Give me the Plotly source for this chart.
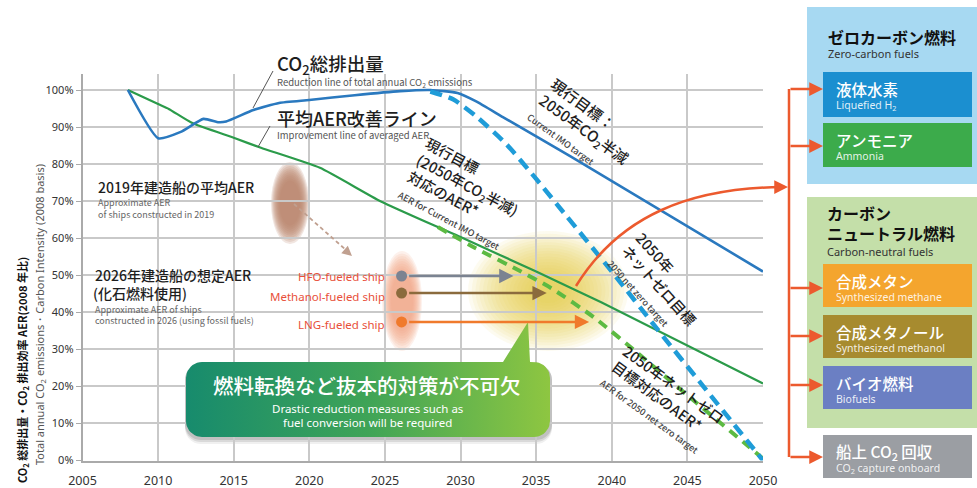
import math
import plotly.graph_objects as go

# ---------------- data ----------------
years_co2_total = [2008, 2010, 2011.5, 2013, 2014, 2014.5, 2016.3, 2018, 2020, 2023, 2026, 2028, 2029.8, 2031, 2032.8, 2037.3, 2050]
co2_total = [100, 87, 88.7, 92.2, 91.3, 91.5, 94.6, 96.5, 97.3, 98.6, 99.7, 100, 99.2, 97, 92.7, 82, 51]

years_co2_netzero = [2028, 2029.5, 2031, 2033, 2035, 2037, 2040, 2043, 2046, 2050]
co2_netzero = [99.6, 97.5, 93, 85.5, 76, 66, 51, 35.5, 20.3, 0]

years_aer_avg = [2008, 2010, 2010.7, 2012.3, 2015, 2016.8, 2020.7, 2024.7, 2030, 2035, 2039.3, 2050]
aer_avg = [100, 96.2, 94.9, 91, 87.1, 84.4, 79, 70, 60.3, 51, 42.7, 20.8]

years_aer_netzero = [2028.5, 2031, 2034, 2036, 2038.8, 2042, 2045, 2048.7, 2050]
aer_netzero = [63, 57.3, 51, 46.5, 38.7, 28, 17.6, 5, 0.5]

ship_types = ["HFO-fueled ship", "Methanol-fueled ship", "LNG-fueled ship"]
ship_year = 2026.1
ship_aer_2026 = [49.8, 45.2, 37.4]
ship_arrow_end = [2033.5, 2035.7, 2038.5]
ship_colors = ["#7b8391", "#8b6b3d", "#f07a2c"]

x_ticks = [2005, 2010, 2015, 2020, 2025, 2030, 2035, 2040, 2045, 2050]
y_ticks = [0, 10, 20, 30, 40, 50, 60, 70, 80, 90, 100]

# ---------------- geometry helpers ----------------
W, H = 977, 488
X0PX, X1PX = 82.5, 763.0
Y0PX, Y100PX, YTOPPX = 460.5, 90.0, 74.0
PXPCT = (Y0PX - Y100PX) / 100.0
YTOP = (Y0PX - YTOPPX) / PXPCT

def fx(p):
    return p / W

def fy(p):
    return 1 - p / H

def dx(p):
    return 2005 + (p - X0PX) * 45.0 / (X1PX - X0PX)

def dy(p):
    return (Y0PX - p) / PXPCT

JP = "Noto Sans CJK JP"
ORANGE = "#ec5a2e"

fig = go.Figure()

# ---------------- callout (gradient) ----------------
def rounded_poly(x0, y0, x1, y1, r, tail=None, n=10):
    pts = []
    def arc(cx, cy, a0, a1):
        for i in range(n + 1):
            a = math.radians(a0 + (a1 - a0) * i / n)
            pts.append((cx + r * math.cos(a), cy + r * math.sin(a)))
    arc(x0 + r, y0 + r, 180, 270)
    if tail:
        pts.extend(tail)
    arc(x1 - r, y0 + r, 270, 360)
    arc(x1 - r, y1 - r, 0, 90)
    arc(x0 + r, y1 - r, 90, 180)
    pts.append(pts[0])
    return pts

CB = (186, 362, 550, 437)
tail = [(503, 362), (528, 322), (530, 362)]
callout = rounded_poly(*CB, 16, tail)

def path_from(pts, ox=0, oy=0):
    return "M " + " L ".join(f"{fx(x+ox):.5f},{fy(y+oy):.5f}" for x, y in pts) + " Z"

shapes = []
for k, a in [(6, 0.08), (4, 0.12), (2, 0.15)]:
    shapes.append(dict(type="path", xref="paper", yref="paper",
                       path=path_from(rounded_poly(CB[0]-1, CB[1]+1, CB[2]+2, CB[3]+k, 16), 0, 1),
                       fillcolor=f"rgba(60,60,60,{a})", line=dict(width=0), layer="between"))

def blob(cx, cy, rx, ry, rgb, n, alpha, layer="between", inner=0.35):
    for i in range(n):
        s = 1 - i * (1 - inner) / (n - 1)
        shapes.append(dict(type="circle", xref="paper", yref="paper",
                           x0=fx(cx - rx * s), x1=fx(cx + rx * s),
                           y0=fy(cy + ry * s), y1=fy(cy - ry * s),
                           fillcolor=f"rgba({rgb[0]},{rgb[1]},{rgb[2]},{alpha})",
                           line=dict(width=0), layer=layer))

blob(548, 291, 80, 60, (224, 202, 58), 18, 0.08, inner=0.2)
blob(290, 203, 19, 41, (184, 132, 104), 10, 0.2, inner=0.55)
blob(402, 301, 20, 50, (243, 158, 126), 10, 0.15, inner=0.55)

shapes.append(dict(type="line", xref="paper", yref="paper", x0=fx(294), y0=fy(204), x1=fx(346), y1=fy(250),
                   line=dict(color="#c0a090", width=1.8, dash="4px,3px"), layer="above"))

shapes.append(dict(type="line", xref="paper", yref="paper", x0=fx(253), y0=fy(108), x1=fx(273), y1=fy(71),
                   line=dict(color="#555", width=1)))
shapes.append(dict(type="line", xref="paper", yref="paper", x0=fx(258), y0=fy(147), x1=fx(270), y1=fy(126),
                   line=dict(color="#555", width=1)))

shapes.append(dict(type="path", xref="paper", yref="paper",
                   path=f"M {fx(576)},{fy(286)} C {fx(620)},{fy(215)} {fx(690)},{fy(188)} {fx(782)},{fy(187)}",
                   line=dict(color=ORANGE, width=2.5)))
shapes.append(dict(type="line", xref="paper", yref="paper", x0=fx(789), y0=fy(89), x1=fx(789), y1=fy(457),
                   line=dict(color=ORANGE, width=2.5)))

def rect(x0, y0, x1, y1, color):
    shapes.append(dict(type="rect", xref="paper", yref="paper", x0=fx(x0), x1=fx(x1), y0=fy(y1), y1=fy(y0),
                       fillcolor=color, line=dict(width=0), layer="below"))

rect(807, 7, 980, 184, "#a7d9f2")
rect(807, 197, 980, 428, "#c4dfa9")
boxes = [
    (72, 117, "#1b8fd0", "液体水素", "Liquefied H<sub>2</sub>"),
    (123, 167, "#3cab4b", "アンモニア", "Ammonia"),
    (264, 307, "#f4a52e", "合成メタン", "Synthesized methane"),
    (315, 358, "#a78b2f", "合成メタノール", "Synthesized methanol"),
    (366, 409, "#6b7fc3", "バイオ燃料", "Biofuels"),
    (435, 478, "#9b9ea3", "船上 CO<sub>2</sub> 回収", "CO<sub>2</sub> capture onboard"),
]
for y0, y1, c, _, _ in boxes:
    rect(823, y0, 972, y1, c)

# ---------------- traces ----------------
fig.add_trace(go.Scatter(x=[dx(p[0]) for p in callout], y=[dy(p[1]) for p in callout], mode="lines",
                         fill="toself", line=dict(width=0, color="#3a9f5a"),
                         fillgradient=dict(type="horizontal", colorscale=[[0, "#178b6d"], [0.5, "#3fa457"], [1, "#8ec641"]]),
                         hoverinfo="skip", showlegend=False))

fig.add_trace(go.Scatter(x=years_aer_avg, y=aer_avg, mode="lines", line=dict(color="#2b9b4a", width=2.2, shape="spline", smoothing=0.5),
                         showlegend=False, cliponaxis=False))
fig.add_trace(go.Scatter(x=years_aer_netzero, y=aer_netzero, mode="lines", line=dict(color="#5cba42", width=4, dash="10px,7px", shape="spline", smoothing=0.6),
                         showlegend=False, cliponaxis=False))
fig.add_trace(go.Scatter(x=years_co2_total, y=co2_total, mode="lines", line=dict(color="#2a79bf", width=2.6, shape="spline", smoothing=0.5),
                         showlegend=False, cliponaxis=False))
fig.add_trace(go.Scatter(x=years_co2_netzero, y=co2_netzero, mode="lines", line=dict(color="#1f9cd8", width=4.5, dash="12px,7px", shape="spline", smoothing=0.6),
                         showlegend=False, cliponaxis=False))

annotations = []
for name, v, xe, c in zip(ship_types, ship_aer_2026, ship_arrow_end, ship_colors):
    annotations.append(dict(x=xe, y=v, ax=ship_year + 0.4, ay=v, xref="x", yref="y", axref="x", ayref="y",
                            text="", showarrow=True, arrowhead=2, arrowsize=1.1, arrowwidth=2.6, arrowcolor=c))
fig.add_trace(go.Scatter(x=[ship_year] * len(ship_types), y=ship_aer_2026, mode="markers",
                         marker=dict(size=11, color=ship_colors), showlegend=False, cliponaxis=False))

# ---------------- text ----------------
def txt(x, y, text, size, color="#1e1e1e", xanchor="left", yanchor="middle", angle=0, align="left", weight="normal", family=JP):
    annotations.append(dict(x=fx(x), y=fy(y), xref="paper", yref="paper", text=text, showarrow=False,
                            xanchor=xanchor, yanchor=yanchor, textangle=angle, align=align,
                            font=dict(size=size, color=color, family=family, weight=weight)))

txt(275, 64, "CO<sub>2</sub>総排出量", 18.5, weight=500)
txt(275, 82, "Reduction line of total annual CO<sub>2</sub> emissions", 9.5, color="#555")
txt(275, 118, "平均AER改善ライン", 18, weight=500)
txt(275, 135, "Improvement line of averaged AER", 9.5, color="#555")

txt(96, 187, "2019年建造船の平均AER", 14, weight=500)
txt(96, 203, "Approximate AER", 9, color="#666")
txt(96, 214, "of ships constructed in 2019", 9, color="#666")
txt(93, 275, "2026年建造船の想定AER", 14, weight=500)
txt(91, 293, "(化石燃料使用)", 14, weight=500)
txt(93, 309, "Approximate AER of ships", 9, color="#666")
txt(93, 320, "constructed in 2026 (using fossil fuels)", 9, color="#666")

for name, ypx in zip(ship_types, [276, 296, 324]):
    txt(387, ypx, name, 11.5, color="#e8503a", xanchor="right", family="Noto Sans")

sm = "<span style='font-size:9px;color:#444'>{}</span>"
txt(585, 128, "現行目標：<br>2050年CO<sub>2</sub>半減<br>" + sm.format("Current IMO target"), 15, xanchor="center", angle=36, weight=500)
txt(463, 193, "現行目標<br>(2050年CO<sub>2</sub>半減)<br>対応のAER*<br>" + sm.format("AER for Current IMO target"), 14.5, xanchor="center", angle=28, weight=500)
txt(660, 285, "2050年<br>ネットゼロ目標<br>" + sm.format("2050 net zero target"), 14.5, xanchor="center", angle=48, weight=500)
txt(663, 399, "2050年ネットゼロ<br>目標対応のAER*<br>" + sm.format("AER for 2050 net zero target"), 14.5, xanchor="center", angle=36, weight=500)

txt(367, 385, "燃料転換など抜本的対策が不可欠", 20.5, color="white", xanchor="center", weight=500)
txt(367, 408, "Drastic reduction measures such as", 11.5, color="white", xanchor="center", family="Noto Sans")
txt(367, 422, "fuel conversion will be required", 11.5, color="white", xanchor="center", family="Noto Sans")

txt(22, 370, "CO<sub>2</sub> 総排出量・CO<sub>2</sub> 排出効率 AER(2008 年比)", 11, color="#111", xanchor="center", angle=-90, weight="bold")
txt(40, 315, "Total annual CO<sub>2</sub> emissions・Carbon Intensity (2008 basis)", 11, color="#555", xanchor="center", angle=-90, family="Noto Sans")

txt(826, 37, "ゼロカーボン燃料", 16, color="#111", weight="bold")
txt(826, 54, "Zero-carbon fuels", 11, color="#333", family="Noto Sans")
txt(825, 213, "カーボン", 16, color="#111", weight="bold")
txt(825, 233, "ニュートラル燃料", 16, color="#111", weight="bold")
txt(825, 251, "Carbon-neutral fuels", 11, color="#333", family="Noto Sans")
for y0, y1, c, jp, en in boxes:
    txt(834, y0 + 17, jp, 15.5, color="white", weight=500)
    txt(834, y0 + 33, en, 10.5, color="rgba(255,255,255,0.88)", family="Noto Sans")

def head(xpx, ypx, axp, ayp, color, width=2.5):
    annotations.append(dict(x=fx(xpx), y=fy(ypx), xref="paper", yref="paper", ax=axp, ay=ayp,
                            text="", showarrow=True, arrowhead=2, arrowsize=1.1, arrowwidth=width, arrowcolor=color))

for ypx in [89, 146, 288, 336, 385, 457]:
    head(823, ypx, -34, 0, ORANGE)
head(788, 187, -8, 0, ORANGE)
head(352, 256, -8, -7, "#c0a090", 1.8)

fig.update_layout(
    width=W, height=H, margin=dict(l=0, r=0, t=0, b=0), autosize=False,
    paper_bgcolor="white", plot_bgcolor="rgba(0,0,0,0)",
    shapes=shapes, annotations=annotations, showlegend=False,
    xaxis=dict(domain=[fx(X0PX), fx(X1PX)], range=[2005, 2050], tickvals=x_ticks, ticktext=[str(v) for v in x_ticks],
               showgrid=True, gridcolor="#c9c9c9", gridwidth=1.5, showline=True, linecolor="#aaaaaa", linewidth=1.5,
               ticks="", zeroline=False, ticklabelstandoff=8,
               tickfont=dict(family="Noto Sans", size=12.5, color="#333"), automargin=False),
    yaxis=dict(domain=[fy(Y0PX), fy(YTOPPX)], range=[0, YTOP], tickvals=y_ticks, ticktext=[f"{v}%" for v in y_ticks],
               showgrid=True, gridcolor="#c9c9c9", gridwidth=1.5, showline=True, linecolor="#aaaaaa", linewidth=1.5,
               ticks="outside", ticklen=5, tickcolor="#aaaaaa", zeroline=False,
               tickfont=dict(family="Noto Sans", size=11, color="#333"), automargin=False),
)

fig.write_html("out.html")
